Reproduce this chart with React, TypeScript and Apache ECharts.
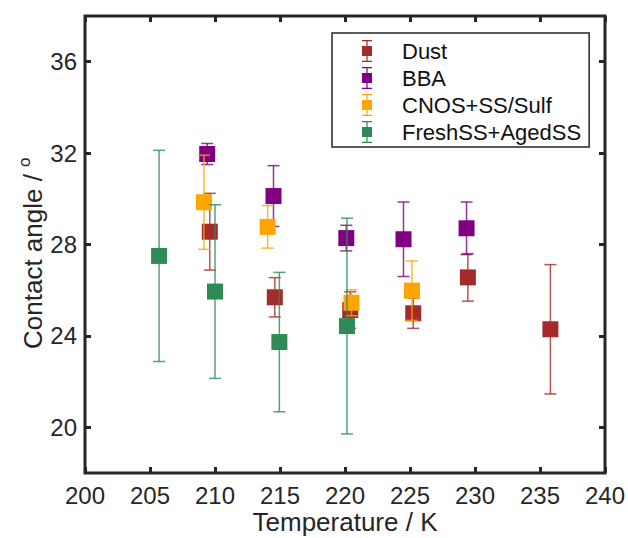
import React, { useEffect, useRef } from "react";
import * as echarts from "echarts";

const FONT = "'Liberation Sans', Arial, Helvetica, sans-serif";
const AXIS_COLOR = "#262626";

const xTickValues = [200, 205, 210, 215, 220, 225, 230, 235, 240];
const yTickValues = [20, 24, 28, 32, 36];

const seriesNames = ["Dust", "BBA", "CNOS+SS/Sulf", "FreshSS+AgedSS"];
const seriesColors = ["#A52A2A", "#800080", "#FFA500", "#2E8B57"];

// Temperature (K), contact angle (deg), error (deg)
const dustT = [209.6, 214.6, 220.4, 225.25, 229.45, 235.8];
const dustV = [28.56, 25.69, 25.13, 24.99, 26.56, 24.29];
const dustErr = [1.68, 0.86, 0.8, 0.66, 1.04, 2.83];

const bbaT = [209.4, 214.5, 220.1, 224.5, 229.35];
const bbaV = [31.96, 30.12, 28.28, 28.23, 28.71];
const bbaErr = [0.46, 1.33, 0.56, 1.63, 1.15];

const cnosT = [209.15, 214.05, 220.5, 225.15];
const cnosV = [29.85, 28.77, 25.45, 25.98];
const cnosErr = [2.06, 0.93, 0.57, 1.3];

const freshT = [205.7, 210.0, 214.95, 220.15];
const freshV = [27.5, 25.94, 23.73, 24.43];
const freshErr = [4.62, 3.8, 3.05, 4.72];

const groups = [
  [dustT, dustV, dustErr],
  [bbaT, bbaV, bbaErr],
  [cnosT, cnosV, cnosErr],
  [freshT, freshV, freshErr],
];

const LEGEND_ICON =
  "path://M1,0 H11 V1.2 H1 Z M5.4,0 H6.6 V22 H5.4 Z M1,20.8 H11 V22 H1 Z M1,6 H11 V16 H1 Z";

function makeRenderItem(color: string) {
  return (params: any, api: any) => {
    const x = api.value(0);
    const y = api.value(1);
    const e = api.value(2);
    const c = api.coord([x, y]);
    const hi = api.coord([x, y + e]);
    const lo = api.coord([x, y - e]);
    const cap = 6;
    const s = 8;
    const ls = { stroke: color, lineWidth: 1.5, opacity: 0.8 };
    return {
      type: "group",
      children: [
        { type: "line", shape: { x1: c[0], y1: hi[1], x2: c[0], y2: lo[1] }, style: ls },
        { type: "line", shape: { x1: c[0] - cap, y1: hi[1], x2: c[0] + cap, y2: hi[1] }, style: ls },
        { type: "line", shape: { x1: c[0] - cap, y1: lo[1], x2: c[0] + cap, y2: lo[1] }, style: ls },
        {
          type: "rect",
          shape: { x: c[0] - s, y: c[1] - s, width: 2 * s, height: 2 * s },
          style: { fill: color },
        },
      ],
    };
  };
}

export default function App() {
  const ref = useRef<HTMLDivElement>(null);

  useEffect(() => {
    const chart = echarts.init(ref.current!, null, { renderer: "svg" });

    const tickStyle = { show: true, inside: true, length: 6, lineStyle: { color: AXIS_COLOR, width: 3 } };

    const xBase = {
      type: "value",
      min: 200,
      max: 240,
      interval: 5,
      splitLine: { show: false },
      axisLine: { show: false },
    };
    const yBase = {
      type: "value",
      min: 18,
      max: 38,
      splitLine: { show: false },
      axisLine: { show: false },
    };

    const option: any = {
      animation: false,
      backgroundColor: "#ffffff",
      textStyle: { fontFamily: FONT },
      grid: {
        left: 85,
        right: 23,
        top: 16,
        bottom: 65,
        containLabel: false,
        outerBoundsMode: "none",
        show: true,
        borderColor: AXIS_COLOR,
        borderWidth: 3,
        backgroundColor: "transparent",
      },
      xAxis: [
        {
          ...xBase,
          position: "bottom",
          axisTick: { ...tickStyle },
          axisLabel: {
            show: true,
            fontSize: 24,
            lineHeight: 24,
            color: AXIS_COLOR,
            fontFamily: FONT,
            margin: 10,
            customValues: xTickValues,
          },
          name: "Temperature / K",
          nameLocation: "middle",
          nameGap: 36,
          nameMoveOverlap: false,
          nameTextStyle: { fontSize: 26, lineHeight: 26, color: AXIS_COLOR, fontFamily: FONT },
        },
        {
          ...xBase,
          position: "top",
          axisTick: { ...tickStyle },
          axisLabel: { show: false },
        },
      ],
      yAxis: [
        {
          ...yBase,
          position: "left",
          axisTick: { ...tickStyle, customValues: yTickValues },
          axisLabel: {
            show: true,
            fontSize: 24,
            lineHeight: 24,
            color: AXIS_COLOR,
            fontFamily: FONT,
            margin: 8,
            customValues: yTickValues,
          },
        },
        {
          ...yBase,
          position: "right",
          axisTick: { ...tickStyle, customValues: yTickValues },
          axisLabel: { show: false },
        },
      ],
      legend: {
        orient: "vertical",
        left: 332,
        top: 33,
        padding: [7, 8, 4, 30],
        itemWidth: 12,
        itemHeight: 22,
        itemGap: 5,
        borderColor: AXIS_COLOR,
        borderWidth: 1.5,
        borderRadius: 0,
        backgroundColor: "#ffffff",
        selectedMode: false,
        textStyle: {
          fontSize: 22,
          color: "#111111",
          fontFamily: FONT,
          lineHeight: 22,
          padding: [0, 0, 0, 24],
        },
        data: seriesNames.map((n) => ({ name: n, icon: LEGEND_ICON })),
      },
      graphic: [
        {
          type: "text",
          x: 31,
          y: 349,
          rotation: Math.PI / 2,
          style: {
            text: "{a|Contact angle / }{s|o}",
            align: "left",
            verticalAlign: "middle",
            fill: AXIS_COLOR,
            rich: {
              a: { fontSize: 26, fontFamily: FONT, fill: AXIS_COLOR, lineHeight: 30, verticalAlign: "bottom" },
              s: { fontSize: 17, fontFamily: FONT, fill: AXIS_COLOR, lineHeight: 30, verticalAlign: "top" },
            },
          },
        },
      ],
      series: groups.map((g, i) => ({
        name: seriesNames[i],
        type: "custom",
        xAxisIndex: 0,
        yAxisIndex: 0,
        itemStyle: { color: seriesColors[i] },
        encode: { x: 0, y: 1 },
        renderItem: makeRenderItem(seriesColors[i]),
        data: g[0].map((t, j) => [t, g[1][j], g[2][j]]),
        z: 2 + i,
      })),
    };

    chart.setOption(option);
    return () => chart.dispose();
  }, []);

  return (
    <div
      ref={ref}
      style={{ position: "absolute", left: 0, top: 0, width: 628, height: 538 }}
    />
  );
}
